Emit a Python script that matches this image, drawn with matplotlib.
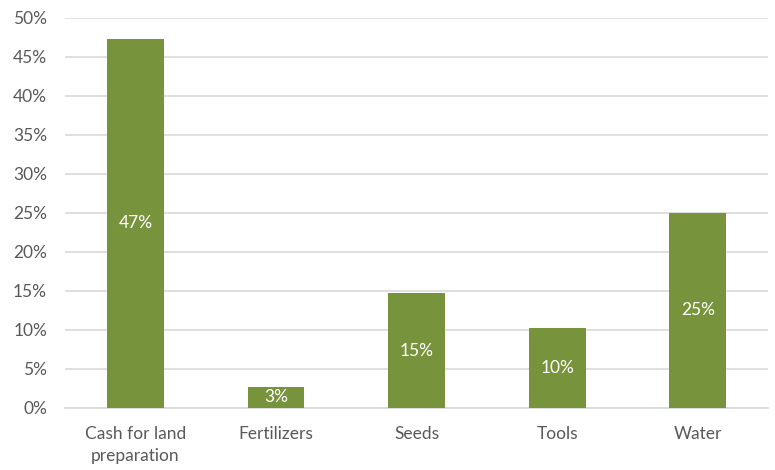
import matplotlib.pyplot as plt
from matplotlib.ticker import PercentFormatter

categories = ['Cash for land\npreparation', 'Fertilizers', 'Seeds', 'Tools', 'Water']
values = [47.3, 2.7, 14.7, 10.3, 25.0]
bar_labels = ['47%', '3%', '15%', '10%', '25%']

plt.rcParams['font.family'] = ['Lato', 'DejaVu Sans']

fig = plt.figure(figsize=(7.75, 4.7), dpi=100)
ax = fig.add_axes([0.084, 0.132, 0.907, 0.83])

x = range(len(categories))
bars = ax.bar(x, values, width=0.405, color='#77933C', zorder=3)
ax.bar_label(bars, labels=bar_labels, label_type='center', color='white', fontsize=12.5)

ax.set_xlim(-0.5, len(categories) - 0.5)
ax.set_ylim(0, 50)
ax.set_yticks(range(0, 51, 5))
ax.yaxis.set_major_formatter(PercentFormatter(decimals=0))
ax.set_xticks(list(x))
ax.set_xticklabels(categories, linespacing=1.45)

ax.grid(axis='y', color='#d9d9d9', linewidth=1.2, zorder=0)
for s in ['top', 'right', 'left']:
    ax.spines[s].set_visible(False)
ax.spines['bottom'].set_color('#d9d9d9')
ax.spines['bottom'].set_linewidth(1.2)
ax.tick_params(axis='both', length=0, labelsize=12.5, colors='#595959')
ax.tick_params(axis='x', pad=13)
ax.tick_params(axis='y', pad=13)

fig.savefig('out.png', dpi=100)
